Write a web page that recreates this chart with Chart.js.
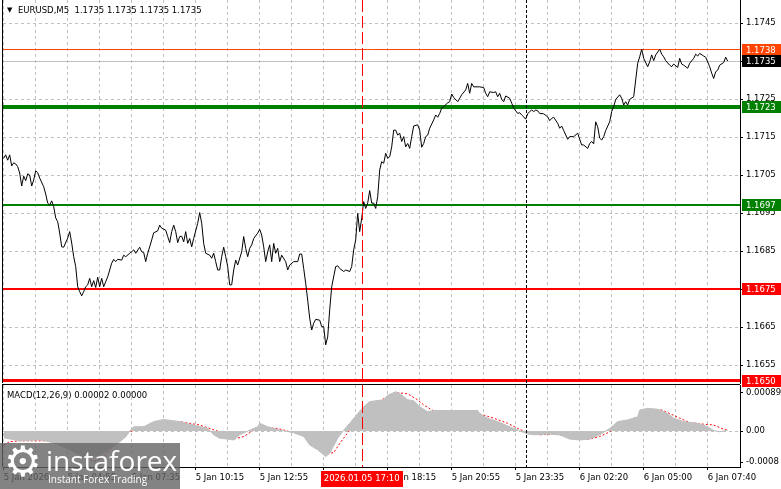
<!DOCTYPE html>
<html>
<head>
<meta charset="utf-8">
<script src="https://cdn.jsdelivr.net/npm/chart.js@4.4.1/dist/chart.umd.min.js"></script>
<style>
    html, body { margin: 0; padding: 0; background: #fff; }
    #wrap { position: relative; width: 781px; height: 489px; overflow: hidden; font-family: 'DejaVu Sans', sans-serif; }
    canvas { position: absolute; left: 0; }
    #macdCanvas { top: 384px; }
    #mainCanvas { top: 0; }
    .lbl { position: absolute; font-size: 8.5px; color: #000; white-space: pre; line-height: 10px; }
    #logo { position: absolute; left: 0; top: 443px; width: 180px; height: 46px; background: rgba(100, 100, 100, 0.8); color: #fff; overflow: hidden; }
    #logo span { position: absolute; white-space: pre; }
</style>
</head>
<body>
<div id="wrap">
    <canvas id="macdCanvas" width="781" height="105"></canvas>
    <canvas id="mainCanvas" width="781" height="392"></canvas>
    <div class="lbl" style="left:7px;top:5px;font-size:7px;">▼</div>
    <div class="lbl" id="title" style="left:18px;top:5px;"></div>
    <div class="lbl" id="macdTitle" style="left:7px;top:390px;"></div>
    <div id="logo">
        <span style="left:4px;top:-6px;font-size:42px;font-family:'DejaVu Sans';">⚙</span>
        <span style="left:46px;top:-2px;font-size:28px;font-family:'Open Sans';">instaforex</span>
        <span style="left:48px;top:29px;font-size:10px;font-family:'Open Sans';">Instant Forex Trading</span>
    </div>
</div>
<script>
// Price (close) line, bar index -> price
const priceBars = [
    0, 1, 2, 3, 4, 5, 6, 7, 8, 9,
    10, 11, 12, 13, 14, 15, 16, 17, 18, 20,
    21, 22, 23, 24, 25, 26, 27, 28, 29, 30,
    32, 33, 34, 35, 36, 37, 38, 39, 40, 41,
    42, 43, 44, 45, 46, 47, 48, 49, 50, 51,
    52, 54, 55, 56, 57, 59, 60, 61, 63, 64,
    65, 66, 68, 69, 70, 71, 72, 73, 74, 75,
    77, 78, 79, 81, 82, 83, 84, 85, 86, 87,
    88, 89, 90, 91, 92, 93, 94, 95, 97, 98,
    99, 100, 101, 103, 104, 105, 106, 107, 108, 109,
    110, 111, 112, 113, 114, 115, 116, 117, 119, 120,
    121, 122, 123, 124, 125, 127, 128, 129, 130, 131,
    132, 133, 134, 135, 136, 137, 138, 139, 141, 142,
    143, 145, 147, 148, 149, 150, 151, 152, 153, 154,
    155, 156, 158, 159, 160, 161, 162, 163, 164, 166,
    167, 168, 170, 171, 173, 174, 175, 176, 177, 178,
    179, 180, 181, 182, 183, 184, 185, 186, 187, 188,
    189, 190, 191, 192, 193, 194, 195, 196, 197, 198,
    199, 200, 201, 202, 203, 204, 205, 207, 208, 209,
    210, 211, 212, 213, 215, 216, 217, 218, 219, 220,
    222, 223, 224, 225, 227, 228, 229, 231, 232, 233,
    234, 235, 238, 240, 241, 242, 243, 245, 246, 247,
    248, 249, 250, 251, 253, 254, 255, 257, 258, 259,
    260, 261, 262, 263, 264, 265, 266, 267, 268, 270,
    272, 273, 274, 275, 277, 278, 279, 280, 282, 283,
    285, 287, 288, 289, 290, 292, 293, 294, 295, 296,
    297, 298, 299, 300, 301, 303, 304, 305, 306, 308,
    309, 310, 311, 312, 313, 315, 316, 317, 318, 319,
    320, 322, 323, 324, 325, 326, 328, 329, 330, 331,
    333, 334, 335, 337, 338, 339, 340, 342, 343, 345,
    346, 347, 348, 350, 351, 353, 354, 355, 356, 357,
    358, 360, 361, 362
];
const priceValues = [
    1.17094, 1.17103, 1.17089, 1.17103, 1.17074, 1.17082, 1.17079, 1.17072, 1.17055, 1.17021,
    1.17047, 1.17035, 1.17053, 1.17050, 1.17021, 1.17037, 1.17061, 1.17056, 1.17042, 1.17019,
    1.17000, 1.16976, 1.16971, 1.16982, 1.16967, 1.16937, 1.16927, 1.16897, 1.16861, 1.16860,
    1.16884, 1.16901, 1.16871, 1.16835, 1.16809, 1.16756, 1.16743, 1.16732, 1.16743, 1.16756,
    1.16761, 1.16778, 1.16756, 1.16772, 1.16754, 1.16781, 1.16756, 1.16778, 1.16756, 1.16769,
    1.16782, 1.16818, 1.16828, 1.16822, 1.16828, 1.16826, 1.16839, 1.16835, 1.16844, 1.16848,
    1.16853, 1.16844, 1.16860, 1.16848, 1.16846, 1.16822, 1.16844, 1.16861, 1.16879, 1.16898,
    1.16903, 1.16918, 1.16910, 1.16905, 1.16888, 1.16872, 1.16901, 1.16918, 1.16901, 1.16872,
    1.16888, 1.16889, 1.16874, 1.16901, 1.16870, 1.16883, 1.16861, 1.16883, 1.16923, 1.16951,
    1.16923, 1.16870, 1.16844, 1.16839, 1.16831, 1.16844, 1.16822, 1.16800, 1.16800, 1.16835,
    1.16860, 1.16835, 1.16809, 1.16761, 1.16761, 1.16800, 1.16826, 1.16813, 1.16848, 1.16888,
    1.16857, 1.16835, 1.16857, 1.16866, 1.16883, 1.16897, 1.16907, 1.16892, 1.16861, 1.16822,
    1.16848, 1.16866, 1.16822, 1.16870, 1.16844, 1.16857, 1.16822, 1.16839, 1.16822, 1.16800,
    1.16813, 1.16822, 1.16822, 1.16842, 1.16842, 1.16804, 1.16765, 1.16721, 1.16673, 1.16642,
    1.16660, 1.16670, 1.16668, 1.16651, 1.16651, 1.16603, 1.16624, 1.16695, 1.16756, 1.16809,
    1.16811, 1.16804, 1.16796, 1.16800, 1.16796, 1.16809, 1.16853, 1.16879, 1.16949, 1.16901,
    1.16936, 1.16980, 1.16962, 1.16976, 1.17009, 1.16976, 1.16976, 1.16962, 1.16993, 1.17063,
    1.17085, 1.17081, 1.17107, 1.17094, 1.17098, 1.17124, 1.17168, 1.17168, 1.17155, 1.17160,
    1.17138, 1.17151, 1.17124, 1.17133, 1.17120, 1.17151, 1.17179, 1.17182, 1.17168, 1.17123,
    1.17133, 1.17151, 1.17155, 1.17173, 1.17195, 1.17208, 1.17202, 1.17212, 1.17226, 1.17230,
    1.17240, 1.17243, 1.17263, 1.17254, 1.17243, 1.17252, 1.17261, 1.17274, 1.17291, 1.17265,
    1.17291, 1.17282, 1.17282, 1.17280, 1.17265, 1.17256, 1.17269, 1.17267, 1.17269, 1.17256,
    1.17265, 1.17249, 1.17243, 1.17258, 1.17252, 1.17239, 1.17226, 1.17212, 1.17214, 1.17208,
    1.17203, 1.17197, 1.17211, 1.17217, 1.17221, 1.17217, 1.17221, 1.17219, 1.17212, 1.17211,
    1.17203, 1.17193, 1.17199, 1.17202, 1.17186, 1.17173, 1.17179, 1.17167, 1.17144, 1.17151,
    1.17151, 1.17160, 1.17144, 1.17129, 1.17129, 1.17120, 1.17133, 1.17138, 1.17132, 1.17190,
    1.17177, 1.17147, 1.17142, 1.17151, 1.17167, 1.17190, 1.17217, 1.17230, 1.17249, 1.17261,
    1.17252, 1.17234, 1.17243, 1.17234, 1.17249, 1.17256, 1.17300, 1.17344, 1.17361, 1.17381,
    1.17357, 1.17335, 1.17348, 1.17366, 1.17351, 1.17366, 1.17381, 1.17368, 1.17361, 1.17351,
    1.17339, 1.17335, 1.17342, 1.17333, 1.17357, 1.17342, 1.17339, 1.17331, 1.17344, 1.17357,
    1.17368, 1.17363, 1.17370, 1.17363, 1.17360, 1.17335, 1.17318, 1.17304, 1.17322, 1.17326,
    1.17339, 1.17346, 1.17360, 1.17350
];

// MACD(12,26,9) main histogram and signal line
const macdBars = [
    0, 8, 18, 26, 33, 41, 48, 56, 61, 63,
    65, 70, 75, 80, 88, 95, 102, 105, 108, 112,
    115, 118, 123, 127, 128, 132, 138, 145, 150, 153,
    157, 161, 163, 167, 170, 173, 177, 180, 183, 190,
    192, 196, 198, 202, 205, 208, 212, 215, 237, 238,
    242, 247, 252, 255, 258, 262, 265, 272, 278, 283,
    288, 293, 298, 303, 307, 312, 317, 318, 322, 327,
    332, 335, 340, 347, 352, 355, 358, 362
];
const macdValues = [
    -0.00016, -0.00023, -0.00021, -0.00028, -0.00044, -0.00063, -0.00056, -0.00033, -0.00014, 0.00000,
    0.00010, 0.00010, 0.00022, 0.00027, 0.00022, 0.00014, 0.00006, -0.00009, -0.00017, -0.00019,
    -0.00021, -0.00009, 0.00002, 0.00010, 0.00018, 0.00010, 0.00002, -0.00004, -0.00013, -0.00033,
    -0.00044, -0.00060, -0.00052, -0.00017, 0.00002, 0.00018, 0.00041, 0.00057, 0.00069, 0.00073,
    0.00084, 0.00092, 0.00088, 0.00073, 0.00071, 0.00057, 0.00045, 0.00048, 0.00048, 0.00041,
    0.00030, 0.00022, 0.00012, 0.00006, 0.00000, -0.00007, -0.00009, -0.00007, -0.00009, -0.00019,
    -0.00021, -0.00019, -0.00009, 0.00006, 0.00022, 0.00026, 0.00033, 0.00049, 0.00053, 0.00051,
    0.00041, 0.00030, 0.00022, 0.00018, 0.00010, 0.00001, -0.00002, 0.00002
];
const signalBars = [
    0, 3, 8, 15, 22, 25, 30, 35, 40, 45,
    50, 53, 58, 63, 68, 73, 80, 88, 98, 108,
    115, 120, 125, 130, 137, 145, 152, 157, 162, 165,
    168, 173, 178, 183, 188, 193, 197, 202, 207, 210,
    215, 223, 232, 238, 245, 252, 257, 262, 268, 275,
    282, 288, 293, 298, 303, 308, 315, 322, 328, 333,
    338, 343, 350, 355, 360, 362
];
const signalValues = [
    -0.00033, -0.00025, -0.00023, -0.00023, -0.00023, -0.00027, -0.00037, -0.00048, -0.00060, -0.00072,
    -0.00060, -0.00044, -0.00019, -0.00002, 0.00006, 0.00014, 0.00022, 0.00022, 0.00014, -0.00002,
    -0.00019, -0.00013, 0.00002, 0.00008, 0.00006, -0.00004, -0.00007, -0.00025, -0.00052, -0.00051,
    -0.00029, 0.00002, 0.00033, 0.00049, 0.00070, 0.00084, 0.00090, 0.00087, 0.00073, 0.00061,
    0.00047, 0.00047, 0.00044, 0.00040, 0.00030, 0.00018, 0.00006, -0.00004, -0.00009, -0.00007,
    -0.00012, -0.00019, -0.00019, -0.00013, -0.00002, 0.00014, 0.00030, 0.00041, 0.00051, 0.00041,
    0.00030, 0.00020, 0.00016, 0.00014, 0.00004, 0.00002
];

// Horizontal levels and price axis
const bidValue = 1.1735;
const levelValues = [1.1738, 1.1723, 1.1697, 1.1675, 1.16508];
const levelLabels = ['1.1738', '1.1723', '1.1697', '1.1675', '1.1650'];
const priceTicks = [1.1655, 1.1665, 1.1675, 1.1685, 1.1695, 1.1705, 1.1715, 1.1725, 1.1735, 1.1745];
const macdTickValues = [0.00089, 0, -0.00073];
const macdTickLabels = ['0.00089', '0.00', '-0.0008'];

// Time axis
const gridBars = [0, 16, 32, 48, 64, 80, 96, 112, 128, 144, 160, 176, 192, 208, 224, 240, 256, 272, 288, 304, 320, 336, 352];
const timeTickBars = [0, 32, 64, 96, 128, 160, 192, 224, 256, 288, 320, 352];
const timeTickLabels = ['5 Jan 2026', '5 Jan 04:55', '5 Jan 07:35', '5 Jan 10:15', '5 Jan 12:55', '5 Jan 15:35',
    '5 Jan 18:15', '5 Jan 20:55', '5 Jan 23:35', '6 Jan 02:20', '6 Jan 05:00', '6 Jan 07:40'];
const markerBar = 179;
const markerLabel = '2026.01.05 17:10';
const daySeparatorBar = 261;

const titleText = 'EURUSD,M5  1.1735 1.1735 1.1735 1.1735';
const macdText = 'MACD(12,26,9) 0.00002 0.00000';

// Styles
const levelStyles = [
    { color: '#ff4500', width: 1 },
    { color: '#008000', width: 4 },
    { color: '#008000', width: 2 },
    { color: '#ff0000', width: 2 },
    { color: '#ff0000', width: 3 }
];
const GRID = '#c0c0c0';
const FONT = { family: 'DejaVu Sans', size: 8.5 };

Chart.defaults.font.family = FONT.family;
Chart.defaults.font.size = FONT.size;
Chart.defaults.color = '#000';

document.getElementById('title').textContent = titleText;
document.getElementById('macdTitle').textContent = macdText;

const X_MIN = -0.35, X_MAX = 368.15;

// Price axis: 38 px per 10 pips, chart area 0..383
const PX_PER_UNIT = 38000;
const MAIN_BOTTOM = 383;
const MACD_PX_PER_UNIT = 42700;

function noPad(s) {
    s.paddingTop = 0;
    s.paddingBottom = 0;
}

function hline(ctx, a, y, color, width) {
    const yy = width % 2 ? Math.round(y - 0.5) + 0.5 : Math.round(y);
    ctx.strokeStyle = color;
    ctx.lineWidth = width;
    ctx.setLineDash([]);
    ctx.beginPath();
    ctx.moveTo(a.left, yy);
    ctx.lineTo(a.right, yy);
    ctx.stroke();
}

function vmarkers(chart) {
    const { ctx, chartArea: a, scales: { x } } = chart;
    ctx.save();
    ctx.lineWidth = 1;
    let px = Math.round(x.getPixelForValue(markerBar)) + 0.5;
    ctx.strokeStyle = '#ff0000';
    ctx.setLineDash([12, 4]);
    ctx.beginPath(); ctx.moveTo(px, a.top); ctx.lineTo(px, a.bottom); ctx.stroke();
    px = Math.round(x.getPixelForValue(daySeparatorBar)) + 0.5;
    ctx.strokeStyle = '#000';
    ctx.setLineDash([3, 2]);
    ctx.beginPath(); ctx.moveTo(px, a.top); ctx.lineTo(px, a.bottom); ctx.stroke();
    ctx.restore();
}

function priceTag(ctx, a, y, text, bg) {
    const cy = Math.round(y);
    ctx.fillStyle = bg;
    ctx.fillRect(a.right + 2, cy - 6, 781 - a.right - 2, 12);
    ctx.fillStyle = '#fff';
    ctx.font = FONT.size + 'px "' + FONT.family + '"';
    ctx.textBaseline = 'middle';
    ctx.textAlign = 'left';
    ctx.fillText(text, a.right + 6, cy + 0.5);
}

const mainPlugin = {
    id: 'mainDecor',
    beforeDatasetsDraw(chart) {
        const { ctx, chartArea: a, scales: { y } } = chart;
        ctx.save();
        ctx.beginPath();
        ctx.rect(a.left, a.top, a.right - a.left, a.bottom - a.top);
        ctx.clip();
        hline(ctx, a, y.getPixelForValue(bidValue), GRID, 1);
        levelValues.forEach((v, i) => hline(ctx, a, y.getPixelForValue(v), levelStyles[i].color, levelStyles[i].width));
        ctx.restore();
    },
    afterDatasetsDraw(chart) {
        vmarkers(chart);
    },
    afterDraw(chart) {
        const { ctx, chartArea: a, scales: { y } } = chart;
        ctx.save();
        ctx.strokeStyle = '#000';
        ctx.lineWidth = 1;
        ctx.beginPath(); ctx.moveTo(a.left - 0.5, a.top); ctx.lineTo(a.left - 0.5, a.bottom); ctx.stroke();
        priceTag(ctx, a, y.getPixelForValue(levelValues[0]), levelLabels[0], levelStyles[0].color);
        priceTag(ctx, a, y.getPixelForValue(bidValue), bidValue.toFixed(4), '#000');
        for (let i = 1; i < levelValues.length; i++) {
            priceTag(ctx, a, y.getPixelForValue(levelValues[i]), levelLabels[i], levelStyles[i].color);
        }
        ctx.restore();
    }
};

new Chart(document.getElementById('mainCanvas'), {
    type: 'line',
    data: {
        datasets: [{
            data: priceBars.map((b, i) => ({ x: b, y: priceValues[i] })),
            borderColor: '#000',
            borderWidth: 1,
            pointRadius: 0,
            tension: 0,
            fill: false
        }]
    },
    options: {
        responsive: false,
        animation: false,
        layout: { padding: { left: 3, top: 0, right: 0, bottom: 392 - MAIN_BOTTOM } },
        plugins: { legend: { display: false }, tooltip: { enabled: false } },
        scales: {
            x: {
                type: 'linear', min: X_MIN, max: X_MAX,
                afterBuildTicks: s => { s.ticks = gridBars.map(v => ({ value: v })); },
                afterFit: s => { s.height = 0; s.paddingLeft = 0; s.paddingRight = 0; },
                ticks: { display: false },
                grid: { color: GRID, drawTicks: false },
                border: { display: false, dash: [3, 3] }
            },
            y: {
                position: 'right',
                min: 1.1650 + (384 - MAIN_BOTTOM) / PX_PER_UNIT,
                max: 1.1650 + 384 / PX_PER_UNIT,
                afterBuildTicks: s => { s.ticks = priceTicks.map(v => ({ value: v })); },
                afterFit: s => { s.width = 41; noPad(s); },
                ticks: { padding: 3, color: '#000', font: FONT, callback: v => v.toFixed(4) },
                grid: { color: GRID, tickColor: '#000', tickLength: 3, tickBorderDash: [] },
                border: { display: true, color: '#000', width: 1, dash: [3, 3] }
            }
        }
    },
    plugins: [mainPlugin]
});

const macdPlugin = {
    id: 'macdDecor',
    afterDatasetsDraw(chart) {
        vmarkers(chart);
    },
    afterDraw(chart) {
        const { ctx, chartArea: a, scales: { x } } = chart;
        ctx.save();
        ctx.strokeStyle = '#000';
        ctx.lineWidth = 1;
        ctx.beginPath(); ctx.moveTo(a.left - 0.5, a.top - 1); ctx.lineTo(a.left - 0.5, a.bottom); ctx.stroke();
        ctx.beginPath(); ctx.moveTo(a.left - 1, a.top - 0.5); ctx.lineTo(a.right, a.top - 0.5); ctx.stroke();
        // time marker box
        const cx = x.getPixelForValue(markerBar);
        ctx.font = FONT.size + 'px "' + FONT.family + '"';
        const w = ctx.measureText(markerLabel).width + 6;
        ctx.fillStyle = '#ff0000';
        ctx.fillRect(Math.round(cx - w / 2), a.bottom + 4, Math.round(w), 16);
        ctx.fillStyle = '#fff';
        ctx.textAlign = 'center';
        ctx.textBaseline = 'middle';
        ctx.fillText(markerLabel, cx, a.bottom + 12);
        ctx.restore();
    }
};

// MACD panel: area from y=385 to 467 (page), zero at 431
new Chart(document.getElementById('macdCanvas'), {
    type: 'line',
    data: {
        datasets: [{
            data: macdBars.map((b, i) => ({ x: b, y: macdValues[i] })),
            borderColor: '#c0c0c0',
            borderWidth: 1,
            backgroundColor: '#c0c0c0',
            pointRadius: 0,
            tension: 0,
            fill: 'origin'
        }, {
            data: signalBars.map((b, i) => ({ x: b, y: signalValues[i] })),
            borderColor: '#ff0000',
            borderWidth: 1,
            borderDash: [2, 2],
            pointRadius: 0,
            tension: 0,
            fill: false
        }]
    },
    options: {
        responsive: false,
        animation: false,
        layout: { padding: { left: 3, top: 1, right: 0, bottom: 0 } },
        plugins: { legend: { display: false }, tooltip: { enabled: false } },
        scales: {
            x: {
                type: 'linear', min: X_MIN, max: X_MAX,
                afterBuildTicks: s => { s.ticks = gridBars.map(v => ({ value: v })); },
                afterFit: s => { s.height = 22; s.paddingLeft = 0; s.paddingRight = 0; },
                ticks: {
                    autoSkip: false, maxRotation: 0, minRotation: 0, align: 'start', padding: 3,
                    color: '#000', font: FONT,
                    callback: v => { const k = timeTickBars.indexOf(v); return k >= 0 ? timeTickLabels[k] : ''; }
                },
                grid: {
                    color: GRID, tickLength: 3, tickBorderDash: [],
                    tickColor: c => (c.tick && timeTickBars.includes(c.tick.value)) ? '#000' : 'rgba(0,0,0,0)'
                },
                border: { display: true, color: '#000', width: 1, dash: [3, 3] }
            },
            y: {
                position: 'right',
                min: -(467 - 431) / MACD_PX_PER_UNIT,
                max: (431 - 385) / MACD_PX_PER_UNIT,
                afterBuildTicks: s => { s.ticks = macdTickValues.map(v => ({ value: v })); },
                afterFit: s => { s.width = 41; noPad(s); },
                ticks: {
                    padding: 3, color: '#000', font: FONT,
                    callback: (v, i) => macdTickLabels[i]
                },
                grid: {
                    color: c => (c.tick && c.tick.value === 0) ? GRID : 'rgba(0,0,0,0)',
                    tickColor: '#000', tickLength: 3, tickBorderDash: []
                },
                border: { display: true, color: '#000', width: 1, dash: [3, 3] }
            }
        }
    },
    plugins: [macdPlugin]
});
</script>
</body>
</html>
